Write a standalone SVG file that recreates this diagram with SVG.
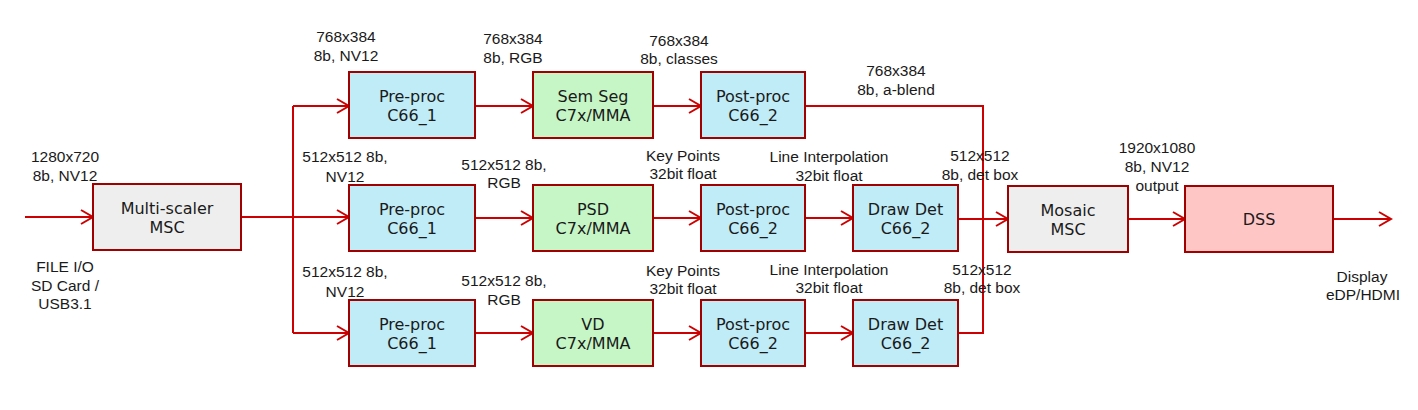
<svg xmlns="http://www.w3.org/2000/svg" width="1418" height="410" viewBox="0 0 1418 410">
<style>
.box{stroke:#A00000;stroke-width:2}
.blue{fill:#C0ECF7}
.green{fill:#C6F6C6}
.gray{fill:#EEEEEE}
.pink{fill:#FFC6C6}
.bt{font-family:"DejaVu Sans",Verdana,sans-serif;font-size:16px;fill:#1a1a1a;text-anchor:middle}
.lb{font-family:"Liberation Sans",Arial,sans-serif;font-size:15.5px;fill:#1a1a1a;text-anchor:middle}
.c{stroke:#CC0000;stroke-width:2;fill:none}
.a{marker-end:url(#arr)}
</style>
<defs>
<marker id="arr" markerUnits="userSpaceOnUse" markerWidth="16" markerHeight="18" refX="13" refY="8" orient="auto" overflow="visible">
<path d="M1,1 L13,8 L1,15" fill="none" stroke="#CC0000" stroke-width="2"/>
</marker>
</defs>
<rect width="1418" height="410" fill="#FFFFFF"/>
<g id="connectors">
<path class="c a" d="M25,217 H93"/>
<path class="c a" d="M241,217 H349"/>
<path class="c" d="M293,333 V106"/>
<path class="c a" d="M293,106 H349"/>
<path class="c a" d="M293,333 H349"/>
<path class="c a" d="M475,106 H533"/>
<path class="c a" d="M653,106 H701"/>
<path class="c" d="M805,106 H983 V333 H958"/>
<path class="c a" d="M475,218 H533"/>
<path class="c a" d="M653,218 H701"/>
<path class="c a" d="M805,218 H853"/>
<path class="c a" d="M958,219 H1008"/>
<path class="c a" d="M475,333 H533"/>
<path class="c a" d="M653,333 H701"/>
<path class="c a" d="M805,333 H853"/>
<path class="c a" d="M1128,219 H1185"/>
<path class="c a" d="M1333,219 H1391"/>
</g>
<g id="msc">
<rect class="box gray" x="93" y="184" width="148" height="66"/>
<text class="bt" x="167" y="214">Multi-scaler</text>
<text class="bt" x="167" y="233">MSC</text>
</g>
<g id="preproc1">
<rect class="box blue" x="349" y="72" width="126" height="66"/>
<text class="bt" x="412" y="102">Pre-proc</text>
<text class="bt" x="412" y="121">C66_1</text>
</g>
<g id="semseg">
<rect class="box green" x="533" y="72" width="120" height="66"/>
<text class="bt" x="593" y="102">Sem Seg</text>
<text class="bt" x="593" y="121">C7x/MMA</text>
</g>
<g id="postproc1">
<rect class="box blue" x="701" y="72" width="104" height="66"/>
<text class="bt" x="753" y="102">Post-proc</text>
<text class="bt" x="753" y="121">C66_2</text>
</g>
<g id="preproc2">
<rect class="box blue" x="349" y="185" width="126" height="66"/>
<text class="bt" x="412" y="215">Pre-proc</text>
<text class="bt" x="412" y="234">C66_1</text>
</g>
<g id="psd">
<rect class="box green" x="533" y="185" width="120" height="66"/>
<text class="bt" x="593" y="215">PSD</text>
<text class="bt" x="593" y="234">C7x/MMA</text>
</g>
<g id="postproc2">
<rect class="box blue" x="701" y="185" width="104" height="66"/>
<text class="bt" x="753" y="215">Post-proc</text>
<text class="bt" x="753" y="234">C66_2</text>
</g>
<g id="drawdet2">
<rect class="box blue" x="853" y="185" width="105" height="66"/>
<text class="bt" x="905.5" y="215">Draw Det</text>
<text class="bt" x="905.5" y="234">C66_2</text>
</g>
<g id="preproc3">
<rect class="box blue" x="349" y="300" width="126" height="66"/>
<text class="bt" x="412" y="330">Pre-proc</text>
<text class="bt" x="412" y="349">C66_1</text>
</g>
<g id="vd">
<rect class="box green" x="533" y="300" width="120" height="66"/>
<text class="bt" x="593" y="330">VD</text>
<text class="bt" x="593" y="349">C7x/MMA</text>
</g>
<g id="postproc3">
<rect class="box blue" x="701" y="300" width="104" height="66"/>
<text class="bt" x="753" y="330">Post-proc</text>
<text class="bt" x="753" y="349">C66_2</text>
</g>
<g id="drawdet3">
<rect class="box blue" x="853" y="300" width="105" height="66"/>
<text class="bt" x="905.5" y="330">Draw Det</text>
<text class="bt" x="905.5" y="349">C66_2</text>
</g>
<g id="mosaic">
<rect class="box gray" x="1008" y="186" width="120" height="66"/>
<text class="bt" x="1068" y="216">Mosaic</text>
<text class="bt" x="1068" y="235">MSC</text>
</g>
<g id="dss">
<rect class="box pink" x="1185" y="186" width="148" height="66"/>
<text class="bt" x="1259" y="225">DSS</text>
</g>
<g id="labels">
<text class="lb" x="65" y="162">1280x720</text>
<text class="lb" x="65" y="181">8b, NV12</text>
<text class="lb" x="65" y="272">FILE I/O</text>
<text class="lb" x="65" y="291">SD Card /</text>
<text class="lb" x="65" y="309">USB3.1</text>
<text class="lb" x="346" y="42">768x384</text>
<text class="lb" x="346" y="61">8b, NV12</text>
<text class="lb" x="513" y="44">768x384</text>
<text class="lb" x="513" y="63">8b, RGB</text>
<text class="lb" x="679" y="46">768x384</text>
<text class="lb" x="679" y="64">8b, classes</text>
<text class="lb" x="896" y="76">768x384</text>
<text class="lb" x="896" y="95">8b, a-blend</text>
<text class="lb" x="345" y="162">512x512 8b,</text>
<text class="lb" x="345" y="182">NV12</text>
<text class="lb" x="504" y="170">512x512 8b,</text>
<text class="lb" x="504" y="188">RGB</text>
<text class="lb" x="683" y="161">Key Points</text>
<text class="lb" x="683" y="179">32bit float</text>
<text class="lb" x="829" y="162">Line Interpolation</text>
<text class="lb" x="829" y="181">32bit float</text>
<text class="lb" x="980" y="161">512x512</text>
<text class="lb" x="980" y="180">8b, det box</text>
<text class="lb" x="345" y="277">512x512 8b,</text>
<text class="lb" x="345" y="297">NV12</text>
<text class="lb" x="504" y="286">512x512 8b,</text>
<text class="lb" x="504" y="305">RGB</text>
<text class="lb" x="683" y="276">Key Points</text>
<text class="lb" x="683" y="294">32bit float</text>
<text class="lb" x="829" y="275">Line Interpolation</text>
<text class="lb" x="829" y="293">32bit float</text>
<text class="lb" x="982" y="275">512x512</text>
<text class="lb" x="982" y="293">8b, det box</text>
<text class="lb" x="1157" y="153">1920x1080</text>
<text class="lb" x="1157" y="172">8b, NV12</text>
<text class="lb" x="1157" y="191">output</text>
<text class="lb" x="1362" y="282">Display</text>
<text class="lb" x="1363" y="300">eDP/HDMI</text>
</g>
</svg>
